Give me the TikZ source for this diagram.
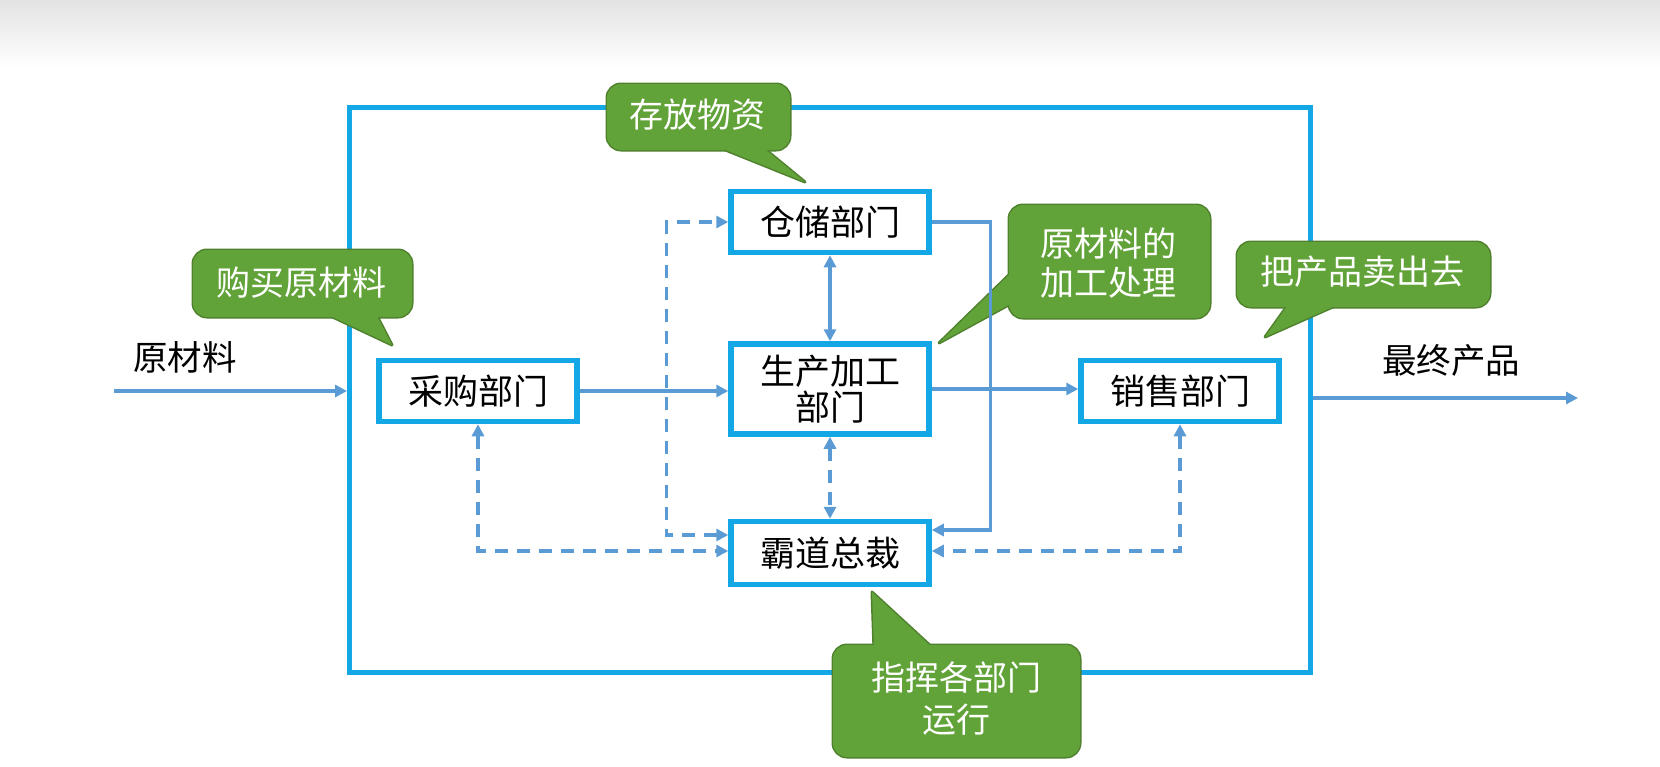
\documentclass[tikz,border=0pt]{standalone}
\usepackage{fontspec}
\newfontfamily\cjk{Noto Sans CJK SC}
\usetikzlibrary{arrows.meta, positioning}
\definecolor{framecyan}{RGB}{20,167,230}
\definecolor{linkblue}{RGB}{91,155,213}
\definecolor{notegreen}{RGB}{98,163,57}
\definecolor{noteedge}{RGB}{78,128,45}

% callout: two rectangle corners, two tail base points, tail tip
\newcommand{\bubble}[5]{%
  \draw[noteedge, line width=3pt, rounded corners=14pt] #1 rectangle #2;
  \draw[noteedge, line width=3pt, line join=round] #3 -- #5 -- #4 -- cycle;
  \fill[notegreen, rounded corners=14pt] #1 rectangle #2;
  \fill[notegreen] #3 -- #5 -- #4 -- cycle;}

\tikzset{
  dept/.style={draw=framecyan, line width=5.5pt, fill=white, minimum width=198pt,
    minimum height=61pt, inner sep=0pt, align=center, font=\cjk\fontsize{35}{36}\selectfont},
  notetext/.style={text=white, align=center, inner sep=0pt},
  flow/.style={linkblue, line width=3.4pt, ->},
  ctrl/.style={flow, dash pattern=on 13pt off 9pt},
}

\begin{document}
\begin{tikzpicture}[x=1pt, y=-1pt, >={Triangle[length=12pt,width=12pt]}]
    \useasboundingbox (0,0) rectangle (1660,766);
    \shade[top color=black!11, bottom color=white] (0,0) rectangle (1660,68);

    \node[draw=framecyan, line width=5pt, minimum width=961pt, minimum height=565pt] (frame) at (830,390) {};

    \node[dept] (store) at (830,222) {仓储部门};
    \node[dept, minimum height=90pt] (make) at (830,389) {生产加工\\部门};
    \node[dept] (buy) at (478,391) {采购部门};
    \node[dept] (sell) at (1180,391) {销售部门};
    \node[dept, minimum height=63pt] (lead) at (830,553) {霸道总裁};

    \node[font=\cjk\fontsize{34.5}{36}\selectfont] (rawlbl) at (185,357) {原材料};
    \node[font=\cjk\fontsize{34.5}{36}\selectfont] (prodlbl) at (1451,360) {最终产品};

    % callouts
    \bubble{(607,84)}{(790,150)}{(713,145)}{(760,145)}{(805,182)}
    \node[notetext, font=\cjk\fontsize{34}{36}\selectfont] (nstore) at (697,115) {存放物资};
    \bubble{(193,250)}{(412,317)}{(322,312)}{(375,312)}{(392,345)}
    \node[notetext, font=\cjk\fontsize{34}{36}\selectfont] (nbuy) at (301,283) {购买原材料};
    \bubble{(1009,205)}{(1210,318)}{(1014,270)}{(1014,302)}{(939,343)}
    \node[notetext, font=\cjk\fontsize{34}{39}\selectfont] (nmake) at (1108,263) {原材料的\\加工处理};
    \bubble{(1237,242)}{(1490,307)}{(1290,302)}{(1344,302)}{(1265,337)}
    \node[notetext, font=\cjk\fontsize{34}{36}\selectfont] (nsell) at (1362,272) {把产品卖出去};
    \bubble{(833,645)}{(1080,757)}{(874,650)}{(935,650)}{(872,592)}
    \node[notetext, font=\cjk\fontsize{34}{42}\selectfont] (nlead) at (956,699) {指挥各部门\\运行};

    % connectors
    \coordinate (rawin) at (114,391);
    \coordinate (prodout) at (1578,398);
    \draw[flow] (rawin) -- (rawin -| frame.west);
    \draw[flow] (frame.east |- prodout) -- (prodout);
    \draw[flow] (buy.east) -- (buy.east -| make.west);
    \draw[flow] (make.east) -- (make.east -| sell.west);
    \draw[flow, <->] (store.south) -- (make.north);
    \draw[ctrl, <->] (make.south) -- (lead.north);
    \draw[flow] (store.east) -- ++(59,0) |- ([yshift=23pt]lead.east);
    \draw[ctrl, <->] (sell.south) |- ([yshift=2pt]lead.east);
    \draw[ctrl, <->] (buy.south) |- ([yshift=2pt]lead.west);
    \draw[ctrl, <->] ([yshift=18pt]lead.west) -- ++(-62,0) |- (store.west);
\end{tikzpicture}
\end{document}
